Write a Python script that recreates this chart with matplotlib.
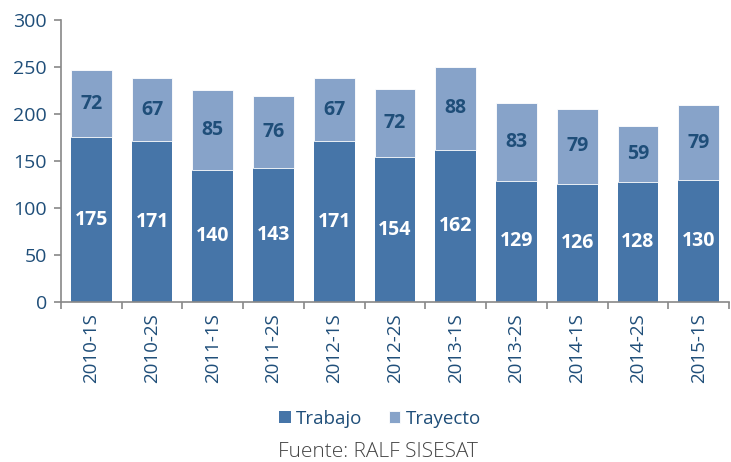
import numpy as np
import matplotlib.pyplot as plt

periodos = ['2010-1S', '2010-2S', '2011-1S', '2011-2S', '2012-1S', '2012-2S',
            '2013-1S', '2013-2S', '2014-1S', '2014-2S', '2015-1S']
trabajo = [175, 171, 140, 143, 171, 154, 162, 129, 126, 128, 130]
trayecto = [72, 67, 85, 76, 67, 72, 88, 83, 79, 59, 79]

c_trab = '#4675A8'
c_tray = '#87A3C9'
c_txt = '#1F4E79'

plt.rcParams['font.family'] = ['Open Sans', 'DejaVu Sans']

fig = plt.figure(figsize=(7.31, 4.62), dpi=100)
ax = fig.add_axes([0.0834, 0.346, 0.914, 0.611])

x = np.arange(len(periodos))
b1 = ax.bar(x, trabajo, width=0.67, color=c_trab, label='Trabajo')
b2 = ax.bar(x, trayecto, width=0.67, bottom=trabajo, color=c_tray, label='Trayecto',
            edgecolor='white', linewidth=0.6)

for i in range(len(x)):
    ax.text(x[i], trabajo[i] / 2, str(trabajo[i]), ha='center', va='center',
            color='white', fontsize=14, fontweight='bold')
    ax.text(x[i], trabajo[i] + trayecto[i] / 2, str(trayecto[i]), ha='center', va='center',
            color=c_txt, fontsize=14, fontweight='bold')

ax.set_xlim(-0.5, len(x) - 0.5)
ax.set_ylim(0, 300)
ax.set_yticks(range(0, 301, 50))
ax.set_xticks(x)
ax.set_xticklabels(periodos, rotation=90, color=c_txt, fontsize=13.5)
ax.set_xticks(np.arange(-0.5, len(x)), minor=True)
ax.tick_params(axis='x', which='major', length=0, pad=8)
ax.tick_params(axis='x', which='minor', length=5, color='#888888', width=1.2)
ax.tick_params(axis='y', length=5, color='#888888', width=1.2, labelcolor=c_txt,
               labelsize=14, pad=5)
for s in ['top', 'right']:
    ax.spines[s].set_visible(False)
for s in ['left', 'bottom']:
    ax.spines[s].set_color('#888888')
    ax.spines[s].set_linewidth(1.2)

leg = fig.legend(handles=[b1, b2], loc='center', bbox_to_anchor=(0.52, 0.093),
                 ncol=2, frameon=False, fontsize=13.5, handlelength=0.6,
                 handleheight=0.6, handletextpad=0.3, columnspacing=1.4)
for t in leg.get_texts():
    t.set_color(c_txt)

fig.text(0.517, 0.022, 'Fuente: RALF SISESAT', ha='center', va='center',
         fontsize=15, color='#444444', fontweight='light')

fig.savefig('out.png', dpi=100)
